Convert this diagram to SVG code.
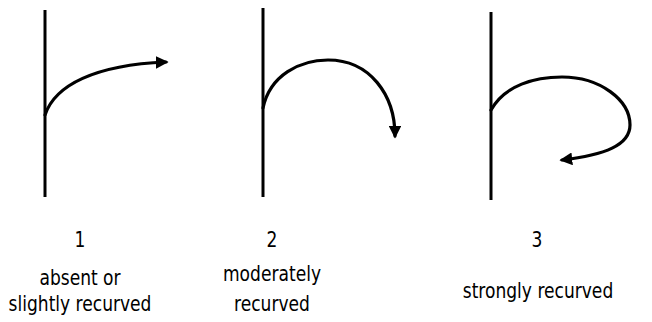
<svg xmlns="http://www.w3.org/2000/svg" width="652" height="322" viewBox="0 0 652 322">
<style>
.stem{stroke:#000;stroke-width:3;fill:none}
.curl{stroke:#000;stroke-width:3.2;fill:none;stroke-linecap:round}
.lbl{font-family:"DejaVu Sans Condensed","DejaVu Sans",sans-serif;font-size:19px;fill:#000;text-anchor:middle}
</style>
<defs>
<marker id="ah" viewBox="0 0 10 10" refX="8" refY="5" markerWidth="4" markerHeight="4" orient="auto" markerUnits="strokeWidth">
<path d="M0,0 L10,5 L0,10 Z" fill="#000"/>
</marker>
</defs>
<g id="panel1">
<line class="stem" x1="45" y1="10" x2="45" y2="197"/>
<path class="curl" d="M45,115 C55,85 95,65 166,62" marker-end="url(#ah)"/>
<text class="lbl" transform="translate(80,247) scale(1,1.15)">1</text>
<text class="lbl" transform="translate(80,285) scale(1,1.15)">absent or</text>
<text class="lbl" transform="translate(80,311) scale(1,1.15)">slightly recurved</text>
</g>
<g id="panel2">
<line class="stem" x1="263" y1="8" x2="263" y2="197"/>
<path class="curl" d="M263,108 C270,75 300,60 328,60 C370,60 395,95 395,136" marker-end="url(#ah)"/>
<text class="lbl" transform="translate(272,247) scale(1,1.15)">2</text>
<text class="lbl" transform="translate(272,281) scale(1,1.15)">moderately</text>
<text class="lbl" transform="translate(272,311) scale(1,1.15)">recurved</text>
</g>
<g id="panel3">
<line class="stem" x1="491" y1="12" x2="491" y2="200"/>
<path class="curl" d="M491,110 C505,85 535,77 562,77 C600,77 630,100 630,125 C630,145 605,155 562,160" marker-end="url(#ah)"/>
<text class="lbl" transform="translate(537,247) scale(1,1.15)">3</text>
<text class="lbl" transform="translate(538,298) scale(1,1.15)">strongly recurved</text>
</g>
</svg>
